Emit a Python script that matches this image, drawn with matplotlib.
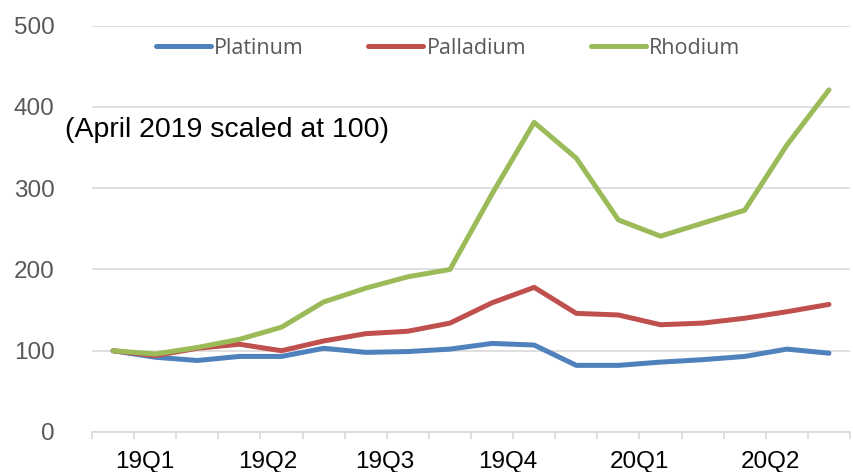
import matplotlib
matplotlib.use("Agg")
import matplotlib.pyplot as plt
import numpy as np

# Monthly index values, April 2019 = 100
platinum = [100, 92, 88, 93, 93, 103, 98, 99, 102, 109, 107, 82, 82, 86, 89, 93, 102, 97]
palladium = [100, 94, 103, 108, 100, 112, 121, 124, 134, 159, 178, 146, 144, 132, 134, 140, 148, 157]
rhodium = [100, 96, 104, 114, 129, 160, 177, 191, 200, 293, 381, 337, 261, 241, 257, 273, 353, 421]
quarter_labels = ["19Q1", "19Q2", "19Q3", "19Q4", "20Q1", "20Q2"]

# where the quarter labels sit along the category axis
label_pos = [0.76, 3.68, 6.46, 9.38, 12.49, 15.6]

x = np.arange(len(rhodium))

fig = plt.figure(figsize=(8.54, 4.72), dpi=100)
ax = fig.add_axes([92 / 854, 1 - 432 / 472, (850 - 92) / 854, (432 - 25.7) / 472])

ax.plot(x, platinum, color="#4F81BD", lw=3.6, label="Platinum", solid_capstyle="round", solid_joinstyle="round")
ax.plot(x, palladium, color="#C0504D", lw=3.6, label="Palladium", solid_capstyle="round", solid_joinstyle="round")
ax.plot(x, rhodium, color="#9BBB59", lw=3.6, label="Rhodium", solid_capstyle="round", solid_joinstyle="round")

ax.set_ylim(0, 500)
ax.set_xlim(-0.5, len(rhodium) - 0.5)
ax.set_yticks(range(0, 501, 100))
ax.yaxis.grid(True, color="#d9d9d9", lw=1.2)
ax.set_axisbelow(True)
for s in ["top", "right", "left"]:
    ax.spines[s].set_visible(False)
ax.spines["bottom"].set_color("#d9d9d9")
ax.spines["bottom"].set_linewidth(1.2)

ax.tick_params(axis="y", length=0, pad=27, labelsize=17.5, labelcolor="#595959")
for t in ax.get_yticklabels():
    t.set_fontfamily("Liberation Sans")

ax.set_xticks(label_pos)
ax.set_xticklabels(quarter_labels, fontsize=17.5, family="Liberation Sans")
ax.set_xticks(np.arange(-0.5, len(rhodium)), minor=True)
ax.tick_params(axis="x", which="major", length=0, pad=14)
ax.tick_params(axis="x", which="minor", length=5, color="#d9d9d9", width=1.2)

ax.text(-1.15, 372, "(April 2019 scaled at 100)", fontsize=20.5, family="Liberation Sans",
        va="center", ha="left")

fig.legend(loc="center", bbox_to_anchor=(448 / 854, 1 - 48 / 472), ncol=3, frameon=False,
           prop={"family": "Open Sans", "size": 15.5}, labelcolor="#595959",
           handlelength=2.55, handletextpad=0.15, columnspacing=3.0)

fig.savefig("out.png", dpi=100)
